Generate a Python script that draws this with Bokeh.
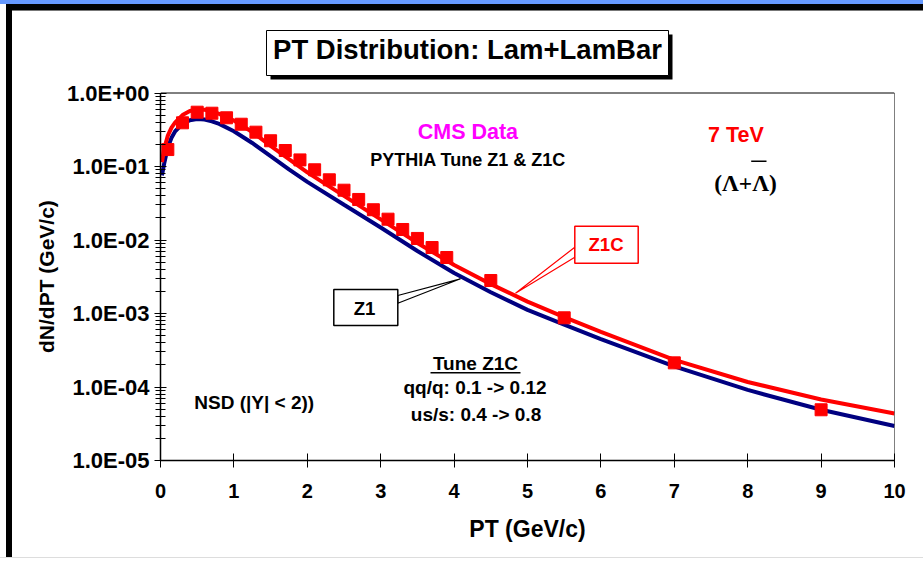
from bokeh.plotting import figure
from bokeh.models import Range1d, FixedTicker, Label, BoxAnnotation, PolyAnnotation, Title
from bokeh.embed import file_html
from bokeh.resources import INLINE

# ---------------- data ----------------
cms_pt = [0.1, 0.3, 0.5, 0.7, 0.9, 1.1, 1.3, 1.5, 1.7, 1.9, 2.1, 2.3, 2.5, 2.7,
          2.9, 3.1, 3.3, 3.5, 3.7, 3.9, 4.5, 5.5, 7.0, 9.0]
cms_dndpt = [0.170, 0.393, 0.548, 0.531, 0.460, 0.376, 0.293, 0.224, 0.165, 0.123,
             0.0902, 0.0659, 0.0476, 0.0356, 0.0258, 0.0192, 0.0139, 0.0105, 0.0079,
             0.00578, 0.00281, 0.000874, 0.000213, 0.000049]

curve_pt = [0.02, 0.05, 0.1, 0.15, 0.2, 0.3, 0.4, 0.5, 0.6, 0.7, 0.8, 1.0, 1.25, 1.5,
            1.75, 2.0, 2.5, 3.0, 3.5, 4.0, 4.5, 5.0, 5.5, 6.0, 7.0, 8.0, 9.0, 10.0]
z1c_dndpt = [0.1148, 0.1738, 0.2630, 0.3388, 0.3981, 0.5012, 0.5689, 0.5957, 0.5916,
             0.5623, 0.5188, 0.4217, 0.2951, 0.1905, 0.1259, 0.0832, 0.0398, 0.0191,
             0.00912, 0.00457, 0.00251, 0.00145, 0.000891, 0.000562, 0.000234,
             0.000117, 0.0000676, 0.0000437]
z1_dndpt = [0.0759, 0.1096, 0.1820, 0.2455, 0.3020, 0.3802, 0.4266, 0.4416, 0.4365,
            0.4121, 0.3802, 0.3020, 0.2089, 0.1380, 0.0912, 0.0617, 0.0302, 0.0148,
            0.00708, 0.00355, 0.00195, 0.00112, 0.000708, 0.000447, 0.000191,
            0.0000912, 0.0000490, 0.0000295]

x_ticks = [0, 1, 2, 3, 4, 5, 6, 7, 8, 9, 10]
y_ticks = [1e-5, 1e-4, 1e-3, 1e-2, 1e-1, 1.0]
y_tick_labels = ["1.0E-05", "1.0E-04", "1.0E-03", "1.0E-02", "1.0E-01", "1.0E+00"]
x_min, x_max = 0, 10
y_min, y_max = 1e-5, 1.0

FONT = "Liberation Sans"
W, H = 923, 561
FRAME_TOP_PX = 92.5     # pixel row where y_max sits
FRAME_BOTTOM_PX = 460.0  # pixel row where y_min sits
# extend the y range above y_max so that the frame reaches the top of the canvas
decade_px = (FRAME_BOTTOM_PX - FRAME_TOP_PX) / 5.0
y_top = y_max * 10 ** (FRAME_TOP_PX / decade_px)

p = figure(width=W, height=H, output_backend="svg", toolbar_location=None,
           x_range=Range1d(x_min, x_max), y_range=Range1d(y_min, y_top), y_axis_type="log",
           min_border_left=160, min_border_right=29, min_border_top=0,
           min_border_bottom=101, background_fill_color=None,
           border_fill_color=None, outline_line_color=None)

# page decoration (blue band, black band, left bar) through CSS background
p.styles = {
    "background-color": "white",
    "background-image": ("linear-gradient(#6699FF, #6699FF), linear-gradient(#000, #000), "
                         "linear-gradient(#000, #000), linear-gradient(#777, #777), "
                         "linear-gradient(#ddd, #ddd)"),
    "background-size": "100% 4px, 100% 6px, 6px 553px, 100% 1px, 100% 1px",
    "background-position": "0 0, 6px 4px, 6px 4px, 12px 10px, 0 557px",
    "background-repeat": "no-repeat",
}

p.xgrid.visible = False
p.ygrid.visible = False

# axes
p.xaxis.ticker = FixedTicker(ticks=x_ticks, minor_ticks=[])
p.yaxis.ticker = FixedTicker(ticks=y_ticks,
                             minor_ticks=[m * 10.0 ** e for e in range(-5, 0) for m in range(2, 10)])
p.yaxis.major_label_overrides = dict(zip(y_ticks, y_tick_labels))
p.yaxis.bounds = (y_min, y_max)

for ax in (p.xaxis[0], p.yaxis[0]):
    ax.axis_line_color = "black"
    ax.axis_line_width = 1.5
    ax.major_tick_line_color = "black"
    ax.minor_tick_line_color = "black"
    ax.major_label_text_font = FONT
    ax.major_label_text_font_style = "bold"
    ax.major_label_text_color = "black"
    ax.axis_label_text_font = FONT
    ax.axis_label_text_font_style = "bold"
    ax.axis_label_text_color = "black"

p.xaxis.major_tick_in = 7
p.xaxis.major_tick_out = 7
p.xaxis.major_label_text_font_size = "20px"
p.xaxis.major_label_standoff = 16
p.xaxis.axis_label = "PT (GeV/c)"
p.xaxis.axis_label_text_font_size = "23px"
p.xaxis.axis_label_standoff = 15

p.yaxis.major_tick_in = 6
p.yaxis.major_tick_out = 6
p.yaxis.minor_tick_in = 5
p.yaxis.minor_tick_out = 5
p.yaxis.major_label_text_font_size = "22px"
p.yaxis.major_label_standoff = 5

# y axis title: starts (bottom end, text reads upward) at this distance above the frame bottom
YLABEL_BOTTOM_PX = 352.5
p.add_layout(Title(text="dN/dPT (GeV/c)", align="left",
                   offset=FRAME_BOTTOM_PX - YLABEL_BOTTOM_PX,
                   standoff=12, text_font=FONT, text_font_style="bold",
                   text_font_size="21px", text_color="black"), "left")

# plot border (top and right edges of the plotting area)
p.add_layout(BoxAnnotation(left=x_min, right=x_max, bottom=y_min, top=y_max,
                           fill_alpha=0, line_color="black", line_alpha=1, line_width=1))

# data glyphs
p.line(curve_pt, z1_dndpt, line_color="#000080", line_width=4)
p.line(curve_pt, z1c_dndpt, line_color="#FF0000", line_width=4)
p.scatter(cms_pt, cms_dndpt, marker="square", size=12, fill_color="#FF0000",
          line_color="#FF0000")


def box(l, t, r, b, fill, line, lw):
    return BoxAnnotation(left=l, right=r, top=t, bottom=b,
                         left_units="canvas", right_units="canvas",
                         top_units="canvas", bottom_units="canvas",
                         fill_color=fill, fill_alpha=1,
                         line_color=line, line_width=lw,
                         line_alpha=1 if line else 0)


def label(x, y, text, size, color="black", font=FONT, align="center"):
    return Label(x=x, y=y, x_units="canvas", y_units="canvas", text=text,
                 text_font=font, text_font_style="bold", text_font_size=size,
                 text_color=color, text_align=align, text_baseline="alphabetic")


# title box with shadow
p.add_layout(box(270, 34, 672, 79, "black", None, 0))
p.add_layout(box(266, 30, 668, 75, "white", "black", 1))
p.add_layout(label(467, 48.8, "PT Distribution: Lam+LamBar", "27.5px"))

# callout wedges
p.add_layout(PolyAnnotation(xs=[574.3, 515, 574.3], ys=[246.7, 292.7, 256.7],
                            xs_units="canvas", ys_units="canvas",
                            fill_alpha=0, line_color="#FF0000", line_alpha=1, line_width=1.2))
p.add_layout(PolyAnnotation(xs=[397.3, 460, 397.3], ys=[295, 278.3, 302.7],
                            xs_units="canvas", ys_units="canvas",
                            fill_alpha=0, line_color="black", line_alpha=1, line_width=1.2))

# callout boxes
p.add_layout(box(574.3, 225.7, 637.7, 262.7, "white", "#FF0000", 1.5))
p.add_layout(label(605.5, 244, "Z1C", "18.6px", color="#FF0000"))
p.add_layout(box(333.3, 289, 397.3, 325, "white", "black", 1.5))
p.add_layout(label(364, 308.3, "Z1", "18.6px"))

# texts
p.add_layout(label(467.4, 131.7, "CMS Data", "21.5px", color="#FF00FF"))
p.add_layout(label(467.5, 159.7, "PYTHIA Tune Z1 & Z1C", "18px"))
p.add_layout(label(735.5, 134.5, "7 TeV", "21.5px", color="#FF0000"))
p.add_layout(label(745, 182, "(\u039b+\u039b)", "23.5px", font="Liberation Serif"))
p.add_layout(box(750.7, 160, 766, 161.5, "black", None, 0))

p.add_layout(label(475, 363.3, "Tune Z1C", "19px"))
p.add_layout(box(430, 371.5, 520, 373, "black", None, 0))
p.add_layout(label(474.5, 387, "qq/q: 0.1 -> 0.12", "19px"))
p.add_layout(label(475.5, 413.7, "us/s: 0.4 -> 0.8", "19px"))
p.add_layout(label(253.7, 402.4, "NSD (|Y| < 2))", "19px"))

open("out.html", "w").write(file_html(p, INLINE))
